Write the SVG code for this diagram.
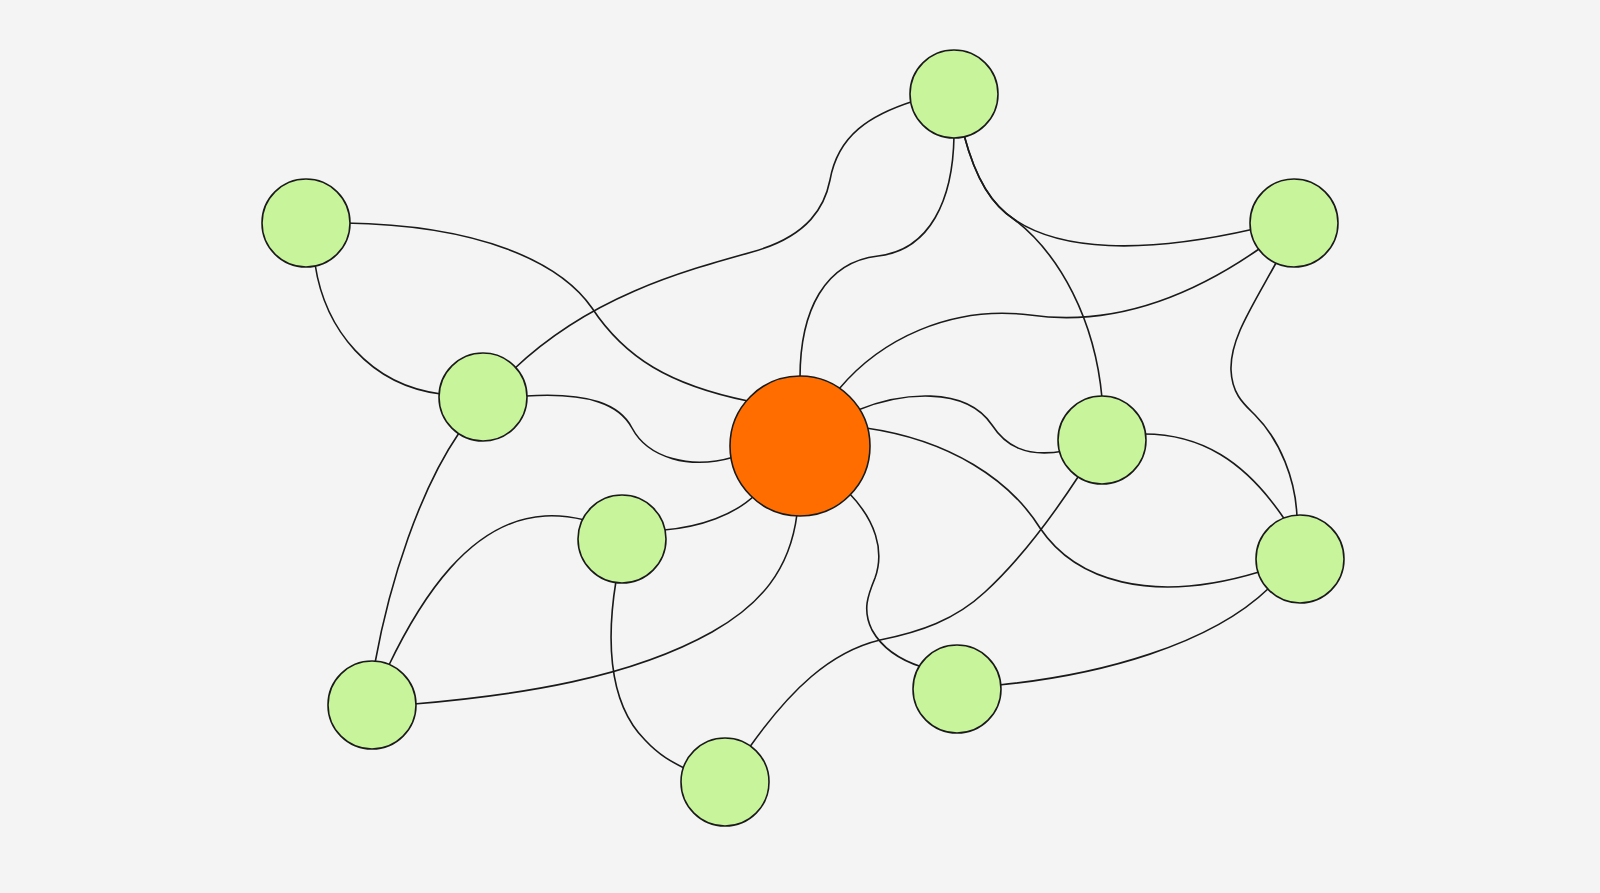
<svg xmlns="http://www.w3.org/2000/svg" width="1600" height="893" viewBox="0 0 1600 893">
<style>
.e{fill:none;stroke:#1a1a1a;stroke-width:1.6}
.n{fill:#c8f59b;stroke:#1a1a1a;stroke-width:1.6}
.c{fill:#ff6c00;stroke:#1a1a1a;stroke-width:1.6}
</style>
<rect width="1600" height="893" fill="#f4f4f4"/>
<g id="connectors">
<path class="e" d="M345,223 C480,225 560,262 592,308 C625,358 670,385 748,401"/>
<path class="e" d="M315,264 C325,330 370,385 441,394"/>
<path class="e" d="M514,369 C590,297 680,272 752,252 C810,236 825,205 830,180 C838,135 870,115 914,101"/>
<path class="e" d="M526,396 C590,392 620,405 632,428 C648,458 690,470 734,457"/>
<path class="e" d="M459,433 C420,490 390,580 375,663"/>
<path class="e" d="M388,667 C420,600 470,520 545,516 C560,515 572,517 585,520"/>
<path class="e" d="M664,530 C700,527 735,515 756,494"/>
<path class="e" d="M616,581 C608,630 605,700 645,740 C660,756 672,762 686,769"/>
<path class="e" d="M797,514 C790,570 760,605 712,632 C630,678 520,695 414,704"/>
<path class="e" d="M954,136 C953,200 930,250 878,256 C825,262 800,310 800,378"/>
<path class="e" d="M964,135 C976,180 992,205 1015,220 C1060,250 1140,255 1254,229"/>
<path class="e" d="M964,135 C976,180 992,205 1015,220 C1060,255 1095,320 1102,398"/>
<path class="e" d="M839,389 C880,340 950,305 1030,315 C1120,328 1200,290 1259,249"/>
<path class="e" d="M1276,263 C1250,310 1230,340 1231,370 C1232,395 1245,405 1255,415 C1280,440 1296,480 1297,518"/>
<path class="e" d="M858,410 C900,393 965,385 992,425 C1005,445 1025,458 1064,451"/>
<path class="e" d="M866,428 C950,440 1010,480 1040,528 C1075,580 1150,605 1259,572"/>
<path class="e" d="M1144,434 C1200,434 1245,460 1285,520"/>
<path class="e" d="M1080,474 C1050,520 1020,560 985,592 C955,620 920,632 880,640 C830,652 790,690 749,748"/>
<path class="e" d="M849,493 C875,520 885,550 875,578 C868,595 862,610 872,630 C882,648 900,660 922,667"/>
<path class="e" d="M999,685 C1100,675 1210,645 1269,588"/>
</g>
<g id="n1"><circle class="n" cx="306" cy="223" r="44"/></g>
<g id="n2"><circle class="n" cx="483" cy="397" r="44"/></g>
<g id="n3"><circle class="n" cx="622" cy="539" r="44"/></g>
<g id="n4"><circle class="n" cx="372" cy="705" r="44"/></g>
<g id="n5"><circle class="n" cx="725" cy="782" r="44"/></g>
<g id="n6"><circle class="n" cx="954" cy="94" r="44"/></g>
<g id="n7"><circle class="n" cx="1294" cy="223" r="44"/></g>
<g id="n8"><circle class="n" cx="1102" cy="440" r="44"/></g>
<g id="n9"><circle class="n" cx="1300" cy="559" r="44"/></g>
<g id="n10"><circle class="n" cx="957" cy="689" r="44"/></g>
<g id="center"><circle class="c" cx="800" cy="446" r="70"/></g>
</svg>
